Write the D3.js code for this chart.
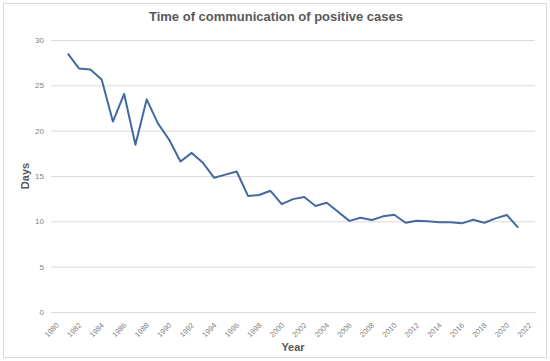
<!DOCTYPE html>
<html>
<head>
<meta charset="utf-8">
<script src="https://cdn.jsdelivr.net/npm/d3@7"></script>
<style>
  body { margin: 0; background: #fff; }
  text { font-family: "Liberation Sans", Arial, sans-serif; }
</style>
</head>
<body>
<div class="chart"></div>
<script>
// years shown on the category axis
var categories = d3.range(1980, 2023);

// values
var years = d3.range(1981, 2022);
var days = [28.5, 26.85, 26.75, 25.65, 21.0, 24.05, 18.45, 23.45, 20.8, 19.0,
            16.6, 17.55, 16.45, 14.8, 15.15, 15.5, 12.8, 12.9, 13.37, 11.9,
            12.45, 12.68, 11.7, 12.05, 11.06, 10.05, 10.4, 10.15, 10.55, 10.73,
            9.85, 10.07, 10.02, 9.9, 9.9, 9.78, 10.18, 9.85, 10.33, 10.7, 9.3];
var yTicks = [0, 5, 10, 15, 20, 25, 30];
var xLabels = categories.filter(function(d) { return d % 2 == 0; });

var W = 550, H = 361;
var margin = {top: 40, right: 15, bottom: 49, left: 51},
    w = W - margin.left - margin.right,
    h = H - margin.top - margin.bottom;

var svg = d3.select(".chart")
            .append("svg")
            .attr("width", W)
            .attr("height", H);

// outer frame
svg.append("rect")
    .attr("x", 3.5)
    .attr("y", 3.5)
    .attr("width", 543)
    .attr("height", 354)
    .attr("fill", "#fff")
    .attr("stroke", "#d9d9d9");

var x = d3.scaleBand()
          .domain(categories)
          .range([0, w]);

var y = d3.scaleLinear()
          .domain([0, 30])
          .range([h, 0]);

var g = svg.append("g")
           .attr("transform", "translate(" + margin.left + "," + margin.top + ")");

// gridlines + y labels
var yAxis = d3.axisLeft(y)
              .tickValues(yTicks)
              .tickSize(-w)
              .tickPadding(7);

g.append("g")
    .call(yAxis)
    .call(function(a) {
        a.select(".domain").remove();
        a.selectAll("line").attr("stroke", "#d9d9d9");
        a.selectAll("text")
            .attr("fill", "#7f7f7f")
            .style("font-size", "8px");
    });

// x labels (rotated)
var xAxis = d3.axisBottom(x)
              .tickValues(xLabels)
              .tickSize(0)
              .tickPadding(0);

g.append("g")
    .attr("transform", "translate(0," + h + ")")
    .call(xAxis)
    .call(function(a) {
        a.select(".domain").attr("stroke", "#d9d9d9");
        a.selectAll("text")
            .attr("fill", "#7f7f7f")
            .style("font-size", "7.5px")
            .attr("text-anchor", "end")
            .attr("dy", "0.35em")
            .attr("transform", "translate(1,12) rotate(-45)");
    });

// the series
var line = d3.line()
             .x(function(d, i) { return x(years[i]) + x.bandwidth() / 2; })
             .y(function(d) { return y(d); });

g.append("path")
    .datum(days)
    .attr("d", line)
    .attr("fill", "none")
    .attr("stroke", "#44699f")
    .attr("stroke-width", 2)
    .attr("stroke-linejoin", "round");

// title and axis titles
svg.append("text")
    .attr("x", 276)
    .attr("y", 21)
    .attr("text-anchor", "middle")
    .attr("fill", "#595959")
    .style("font-size", "13px")
    .style("font-weight", "bold")
    .text("Time of communication of positive cases");

svg.append("text")
    .attr("transform", "translate(29," + (margin.top + h / 2) + ") rotate(-90)")
    .attr("text-anchor", "middle")
    .attr("fill", "#595959")
    .style("font-size", "11px")
    .style("font-weight", "bold")
    .text("Days");

svg.append("text")
    .attr("x", 293)
    .attr("y", 351)
    .attr("text-anchor", "middle")
    .attr("fill", "#595959")
    .style("font-size", "11px")
    .style("font-weight", "bold")
    .text("Year");
</script>
</body>
</html>
